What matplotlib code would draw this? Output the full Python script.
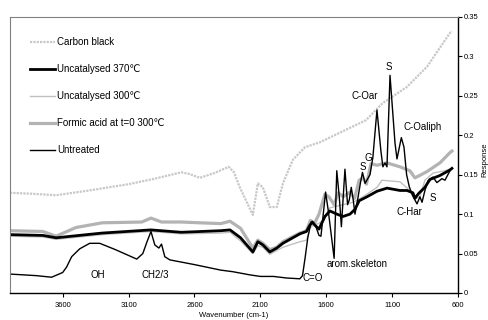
import matplotlib
matplotlib.use("Agg")
import matplotlib.pyplot as plt
from matplotlib.ticker import FuncFormatter

plt.rcParams['font.family'] = ['Liberation Sans', 'DejaVu Sans']

# wavenumber (cm-1) / response pairs
cb_wn = [4000, 3850, 3650, 3400, 3100, 2900, 2700, 2640, 2560, 2450, 2340, 2300, 2256, 2157, 2119,
         2081, 2028, 1975, 1929, 1853, 1760, 1650, 1500, 1300, 1170, 990, 835, 660, 645]
cb_val = [0.127, 0.126, 0.124, 0.130, 0.138, 0.145, 0.153, 0.151, 0.146, 0.152, 0.160, 0.153, 0.134, 0.099, 0.139,
          0.134, 0.109, 0.109, 0.139, 0.169, 0.185, 0.191, 0.203, 0.219, 0.241, 0.261, 0.287, 0.330, 0.332]

fa_wn = [4000, 3750, 3650, 3500, 3300, 3000, 2930, 2850, 2700, 2560, 2400, 2330, 2250, 2157, 2119,
         2081, 2028, 1975, 1929, 1800, 1750, 1720, 1690, 1655, 1610, 1580, 1540, 1510, 1470, 1420,
         1385, 1350, 1320, 1295, 1260, 1215, 1140, 1040, 965, 927, 880, 835, 737, 661, 646]
fa_val = [0.079, 0.078, 0.072, 0.083, 0.089, 0.090, 0.095, 0.090, 0.090, 0.089, 0.088, 0.091, 0.082, 0.057, 0.067,
          0.063, 0.055, 0.058, 0.065, 0.076, 0.079, 0.092, 0.088, 0.100, 0.125, 0.122, 0.112, 0.127, 0.122, 0.128,
          0.120, 0.143, 0.146, 0.138, 0.164, 0.162, 0.165, 0.160, 0.155, 0.146, 0.150, 0.154, 0.165, 0.178, 0.180]

u370_wn = [4000, 3750, 3650, 3300, 2930, 2700, 2400, 2330, 2250, 2157, 2119, 2081, 2028, 1975, 1929,
           1800, 1750, 1724, 1705, 1686, 1655, 1610, 1572, 1519, 1473, 1420, 1382, 1350, 1291, 1215,
           1139, 1040, 987, 942, 927, 900, 851, 813, 737, 661, 646]
u370_val = [0.074, 0.073, 0.070, 0.076, 0.080, 0.077, 0.079, 0.080, 0.070, 0.052, 0.065, 0.061, 0.052, 0.057, 0.063,
            0.075, 0.078, 0.086, 0.090, 0.086, 0.081, 0.097, 0.104, 0.100, 0.097, 0.100, 0.106, 0.117, 0.122, 0.129,
            0.133, 0.130, 0.130, 0.127, 0.120, 0.126, 0.134, 0.144, 0.149, 0.156, 0.158]

u300_wn = [4000, 3750, 3650, 3300, 2930, 2700, 2400, 2330, 2250, 2157, 2119, 2081, 2028, 1975, 1929,
           1800, 1750, 1724, 1700, 1660, 1620, 1572, 1473, 1397, 1321, 1215, 1177, 1040, 965, 920,
           890, 851, 790, 700, 646]
u300_val = [0.072, 0.071, 0.068, 0.074, 0.078, 0.075, 0.076, 0.077, 0.066, 0.050, 0.060, 0.058, 0.049, 0.054, 0.058,
            0.065, 0.067, 0.082, 0.086, 0.088, 0.092, 0.108, 0.112, 0.115, 0.122, 0.134, 0.143, 0.141, 0.130, 0.120,
            0.122, 0.143, 0.152, 0.155, 0.158]

un_wn = [4000, 3800, 3684, 3600, 3570, 3532, 3471, 3395, 3319, 3200, 3038, 2992, 2960, 2930, 2901,
         2870, 2850, 2825, 2787, 2600, 2400, 2309, 2180, 2100, 2000, 1900, 1800, 1780, 1760, 1740,
         1715, 1680, 1655, 1640, 1605, 1585, 1540, 1520, 1500, 1485, 1458, 1438, 1425, 1410, 1395,
         1382, 1360, 1340, 1325, 1305, 1268, 1246, 1215, 1185, 1170, 1154, 1139, 1116, 1078, 1063,
         1030, 1010, 990, 970, 949, 927, 911, 889, 873, 851, 828, 790, 760, 722, 699, 661, 646]
un_val = [0.024, 0.022, 0.020, 0.026, 0.033, 0.046, 0.056, 0.063, 0.063, 0.055, 0.043, 0.050, 0.065, 0.078, 0.061,
          0.057, 0.062, 0.046, 0.042, 0.036, 0.029, 0.027, 0.023, 0.021, 0.021, 0.019, 0.018, 0.022, 0.045, 0.070,
          0.090, 0.085, 0.073, 0.072, 0.128, 0.105, 0.044, 0.155, 0.120, 0.084, 0.157, 0.112, 0.118, 0.134, 0.118,
          0.100, 0.120, 0.140, 0.153, 0.139, 0.150, 0.172, 0.232, 0.180, 0.160, 0.165, 0.160, 0.276, 0.190, 0.170,
          0.197, 0.185, 0.150, 0.135, 0.125, 0.118, 0.113, 0.122, 0.115, 0.130, 0.142, 0.147, 0.140, 0.145, 0.143,
          0.155, 0.158]

peak_labels = ["OH", "CH2/3", "C=O", "arom.skeleton", "C-Har", "S", "S", "C-Oar", "C-Oaliph", "G", "S"]
peak_x = [3334, 2901, 1701, 1367, 965, 790, 1124, 1306, 866, 1283, 1321]
peak_y = [0.023, 0.023, 0.019, 0.037, 0.103, 0.120, 0.287, 0.250, 0.211, 0.171, 0.160]

fig = plt.figure(figsize=(4.89, 3.2), dpi=100)
ax = fig.add_axes([0.0204, 0.0844, 0.9162, 0.8625])

ax.plot(cb_wn, cb_val, color='#c8c8c8', lw=1.6, ls=(0, (1, 0.5)), label='Carbon black')
ax.plot(fa_wn, fa_val, color='#b3b3b3', lw=2.3, label='Formic acid at t=0 300\u2103')
ax.plot(u300_wn, u300_val, color='#c0c0c0', lw=1.0, label='Uncatalysed 300\u2103')
ax.plot(u370_wn, u370_val, color='black', lw=2.0, label='Uncatalysed 370\u2103')
ax.plot(un_wn, un_val, color='black', lw=1.0, label='Untreated')

for t, x, y in zip(peak_labels, peak_x, peak_y):
    ax.text(x, y, t, fontsize=7, ha='center', va='center')

handles, labels = ax.get_legend_handles_labels()
order = [0, 3, 2, 1, 4]
ax.legend([handles[i] for i in order], [labels[i] for i in order], loc='upper left',
          bbox_to_anchor=(0.035, 0.94), frameon=False, fontsize=7, handlelength=2.6,
          handletextpad=0.2, labelspacing=1.75, borderaxespad=0)

ax.set_xlim(4000, 600)
ax.set_ylim(0, 0.35)
ax.set_xticks([3600, 3100, 2600, 2100, 1600, 1100, 600])
ax.set_yticks([0, 0.05, 0.1, 0.15, 0.2, 0.25, 0.3, 0.35])
ax.yaxis.set_major_formatter(FuncFormatter(lambda v, p: '{:g}'.format(round(v, 2))))
ax.yaxis.tick_right()
ax.tick_params(labelsize=5.5, length=3, width=0.8, direction='out')
ax.tick_params(axis='y', pad=1.5)
ax.set_xlabel('Wavenumber (cm-1)', fontsize=5.5, labelpad=2)
fig.text(484.5 / 489, 0.5, 'Response', rotation=90, fontsize=5.5, ha='center', va='center')

ax.spines['top'].set_color('#808080')
ax.spines['left'].set_color('#808080')
for s in ['top', 'left']:
    ax.spines[s].set_linewidth(0.8)
for s in ['right', 'bottom']:
    ax.spines[s].set_linewidth(1.0)

fig.savefig('out.png', dpi=100)
